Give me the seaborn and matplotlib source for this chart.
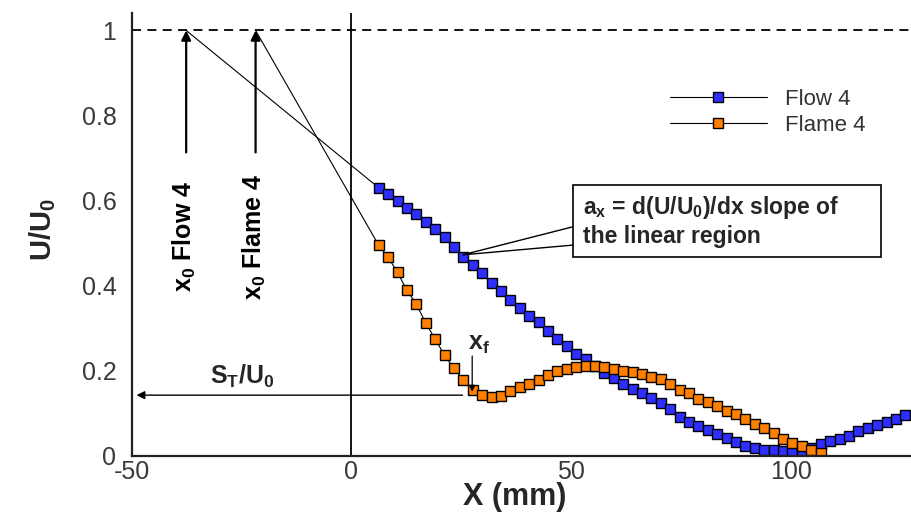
import numpy as np
import pandas as pd
import matplotlib
matplotlib.use("Agg")
import matplotlib.pyplot as plt
from matplotlib.patches import Rectangle, Polygon
import seaborn as sns

# ---------------- data ----------------
flow_x = [6.2, 8.3, 10.5, 12.6, 14.8, 16.9, 19.0, 21.2, 23.3, 25.5, 27.6, 29.7,
          31.9, 34.0, 36.2, 38.3, 40.4, 42.6, 44.7, 46.9, 49.0, 51.1, 53.3, 55.4,
          57.6, 59.7, 61.8, 64.0, 66.1, 68.3, 70.4, 72.5, 74.7, 76.8, 79.0, 81.1,
          83.2, 85.4, 87.5, 89.7, 91.8, 93.9, 96.1, 98.2, 100.4, 102.5, 104.6,
          106.8, 108.9, 111.1, 113.2, 115.3, 117.5, 119.6, 121.8, 123.9, 126.0]
flow_y = [0.630, 0.615, 0.599, 0.583, 0.568, 0.549, 0.532, 0.513, 0.491, 0.467,
          0.448, 0.429, 0.406, 0.387, 0.367, 0.348, 0.328, 0.313, 0.293, 0.274,
          0.257, 0.239, 0.227, 0.211, 0.195, 0.182, 0.169, 0.156, 0.146, 0.136,
          0.123, 0.110, 0.091, 0.080, 0.069, 0.059, 0.050, 0.042, 0.032, 0.023,
          0.017, 0.014, 0.013, 0.011, 0.009, 0.010, 0.018, 0.027, 0.033, 0.038,
          0.046, 0.057, 0.065, 0.072, 0.079, 0.086, 0.095]

flame_x = [6.2, 8.3, 10.5, 12.6, 14.8, 16.9, 19.0, 21.2, 23.3, 25.5, 27.6, 29.7,
           31.9, 34.0, 36.2, 38.3, 40.4, 42.6, 44.7, 46.9, 49.0, 51.1, 53.3, 55.4,
           57.6, 59.7, 61.8, 64.0, 66.1, 68.3, 70.4, 72.5, 74.7, 76.8, 79.0, 81.1,
           83.2, 85.4, 87.5, 89.7, 91.8, 93.9, 96.1, 98.2, 100.4, 102.5, 104.6, 106.8]
flame_y = [0.495, 0.467, 0.431, 0.389, 0.356, 0.312, 0.275, 0.236, 0.205, 0.178,
           0.153, 0.143, 0.138, 0.141, 0.152, 0.160, 0.169, 0.178, 0.189, 0.198,
           0.203, 0.208, 0.211, 0.211, 0.209, 0.203, 0.199, 0.196, 0.191, 0.185,
           0.179, 0.168, 0.155, 0.147, 0.134, 0.126, 0.116, 0.105, 0.097, 0.087,
           0.075, 0.064, 0.052, 0.040, 0.030, 0.022, 0.013, 0.006]

series_names = ["Flow 4", "Flame 4"]
series_colors = ["#2e2eff", "#ff8000"]

x_ticks = [-50, 0, 50, 100]
x_ticklabels = ["-50", "0", "50", "100"]
y_ticks = [0, 0.2, 0.4, 0.6, 0.8, 1.0]
y_ticklabels = ["0", "0.2", "0.4", "0.6", "0.8", "1"]

x0_flow = -37.6      # virtual origin, flow
x0_flame = -21.8     # virtual origin, flame
st_u0 = 0.142        # S_T/U_0 level
x_f = 27.5           # flame position

# ---------------- style ----------------
sns.set_theme(style="white")
plt.rcParams["font.family"] = ["Liberation Sans", "DejaVu Sans"]
plt.rcParams["mathtext.fontset"] = "custom"
plt.rcParams["mathtext.rm"] = "Liberation Sans"
plt.rcParams["mathtext.it"] = "Liberation Sans:italic"
plt.rcParams["mathtext.bf"] = "Liberation Sans:bold"

fig = plt.figure(figsize=(9.12, 5.14), dpi=100)
ax = fig.add_axes([0.1444, 0.1138, 0.8556, 0.8609])

df = pd.concat([
    pd.DataFrame({"x": flow_x, "y": flow_y, "s": series_names[0]}),
    pd.DataFrame({"x": flame_x, "y": flame_y, "s": series_names[1]}),
])

for name, col in zip(series_names, series_colors):
    sub = df[df["s"] == name]
    sns.lineplot(data=sub, x="x", y="y", ax=ax, color="black", lw=0.8,
                 marker="s", markersize=7.8, markerfacecolor=col,
                 markeredgecolor="black", markeredgewidth=1.0,
                 estimator=None, sort=False, label=name)

ax.set_xlim(-50, 127.6)
ax.set_ylim(0, 1.041)

# reference lines
ax.axhline(1.0, color="black", lw=1.3, ls=(0, (5, 3.5)), zorder=1)
ax.axvline(0, color="black", lw=1.3, zorder=1)

# extrapolation lines to the virtual origins
ax.plot([x0_flow, flow_x[0]], [1.0, flow_y[0]], color="black", lw=0.8, zorder=1)
ax.plot([x0_flame, flame_x[0]], [1.0, flame_y[0]], color="black", lw=0.8, zorder=1)

# x0 arrows and labels
for x0, lab in [(x0_flow, "Flow 4"), (x0_flame, "Flame 4")]:
    ax.annotate("", xy=(x0, 1.0), xytext=(x0, 0.713),
                arrowprops=dict(arrowstyle="-|>", color="black", lw=1.6,
                                mutation_scale=14, shrinkA=0, shrinkB=0))
    ax.text(x0 - 0.3, 0.515, r"x$_\mathbf{0}$ " + lab, rotation=90,
            ha="center", va="center", fontsize=18, fontweight="bold",
            color="black")

# S_T/U_0 arrow
ax.annotate("", xy=(-48.9, st_u0), xytext=(25.3, st_u0),
            arrowprops=dict(arrowstyle="-|>", color="black", lw=1.0,
                            mutation_scale=12, shrinkA=0, shrinkB=0))
ax.text(-24.9, 0.185, r"S$_\mathbf{T}$/U$_\mathbf{0}$", ha="center", va="center",
        fontsize=18, fontweight="bold")

# x_f
ax.annotate("", xy=(x_f, 0.150), xytext=(x_f, 0.234),
            arrowprops=dict(arrowstyle="-|>", color="black", lw=0.9,
                            mutation_scale=9, shrinkA=0, shrinkB=0))
ax.text(x_f + 1.5, 0.262, r"x$_\mathbf{f}$", ha="center", va="center",
        fontsize=18, fontweight="bold")

# slope callout box
box_x0, box_y0, box_w, box_h = 50.4, 0.467, 70.2, 0.169
ax.add_patch(Rectangle((box_x0, box_y0), box_w, box_h, facecolor="white",
                       edgecolor="black", lw=1.2, zorder=5))
ax.add_patch(Polygon([(box_x0, 0.538), (25.3, 0.472), (box_x0, 0.495)],
                     closed=False, fill=False, edgecolor="black", lw=1.0,
                     zorder=5))
ax.text(52.8, 0.552, "a$_\\mathbf{x}$ = d(U/U$_\\mathbf{0}$)/dx slope of\nthe linear region",
        ha="left", va="center", fontsize=16.5, fontweight="bold",
        linespacing=1.2, zorder=6)

# axes styling
for s in ["top", "right"]:
    ax.spines[s].set_visible(False)
for s in ["left", "bottom"]:
    ax.spines[s].set_color("#222222")
    ax.spines[s].set_linewidth(1.6)

ax.set_xticks(x_ticks)
ax.set_xticklabels(x_ticklabels)
ax.set_yticks(y_ticks)
ax.set_yticklabels(y_ticklabels)
ax.set_xticks(np.arange(-50, 128, 10), minor=True)
ax.set_yticks(np.arange(0, 1.0001, 0.05), minor=True)
ax.tick_params(which="both", direction="in", color="#222222", width=1.4,
               labelsize=18, labelcolor="#3a3a3a")
ax.tick_params(which="major", length=7)
ax.tick_params(which="minor", length=6)
ax.tick_params(axis="x", which="major", pad=3)
ax.tick_params(axis="y", which="major", pad=11)

ax.set_xlabel("X (mm)", fontsize=22, fontweight="bold")
ax.set_ylabel(r"U/U$_\mathbf{0}$", fontsize=21, fontweight="bold")
ax.xaxis.set_label_coords(0.491, -0.060)
ax.yaxis.set_label_coords(-0.095, 0.51)

leg = ax.legend(loc="upper left", bbox_to_anchor=(0.675, 0.853), frameon=False,
                fontsize=16, handlelength=4.4, handletextpad=0.8,
                labelspacing=0.2, borderpad=0, labelcolor="#333333")

fig.savefig("out.png", dpi=100)
